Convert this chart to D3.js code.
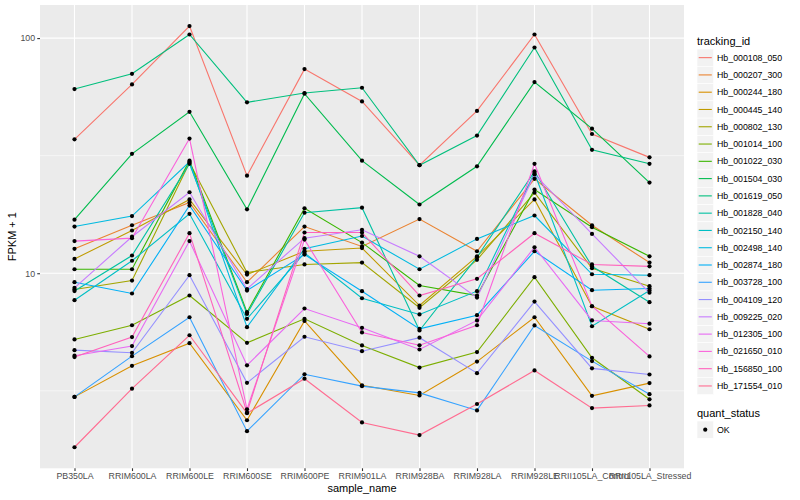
<!DOCTYPE html>
<html>
<head>
<meta charset="utf-8">
<script src="https://cdn.jsdelivr.net/npm/d3@7"></script>
<style>
  body { margin: 0; background: #ffffff; }
  text { font-family: "Liberation Sans", Arial, Helvetica, sans-serif; }
</style>
</head>
<body>
<svg id="chart" width="800" height="500"></svg>
<script>
const samples = ["PB350LA", "RRIM600LA", "RRIM600LE", "RRIM600SE", "RRIM600PE", "RRIM901LA",
  "RRIM928BA", "RRIM928LA", "RRIM928LE", "RRII105LA_Control", "RRII105LA_Stressed"];

const trackingIds = ["Hb_000108_050", "Hb_000207_300", "Hb_000244_180", "Hb_000445_140", "Hb_000802_130",
  "Hb_001014_100", "Hb_001022_030", "Hb_001504_030", "Hb_001619_050", "Hb_001828_040",
  "Hb_002150_140", "Hb_002498_140", "Hb_002874_180", "Hb_003728_100", "Hb_004109_120",
  "Hb_009225_020", "Hb_012305_100", "Hb_021650_010", "Hb_156850_100", "Hb_171554_010"];

const seriesColors = ["#F8766D", "#EA8331", "#D89000", "#C09B00", "#A3A500", "#7CAE00", "#39B600",
  "#00BB4E", "#00BF7D", "#00C1A3", "#00BFC4", "#00BAE0", "#00B0F6", "#35A2FF", "#9590FF",
  "#C77CFF", "#E76BF3", "#FA62DB", "#FF62BC", "#FF6C91"];

// FPKM + 1, one row per tracking_id, one value per sample
const fpkmPlusOne = [
  [37.1, 63.5, 112.5, 26.0, 73.8, 53.8, 28.8, 49.0, 103.6, 39.1, 31.1],
  [12.7, 16.0, 20.0, 9.16, 15.8, 13.0, 17.0, 12.4, 25.2, 16.0, 11.1],
  [2.98, 4.04, 5.04, 2.37, 6.27, 3.34, 3.02, 4.21, 6.50, 3.01, 3.41],
  [11.5, 15.2, 20.6, 9.87, 12.4, 12.8, 7.29, 11.8, 20.6, 7.24, 5.78],
  [8.53, 9.31, 29.5, 10.07, 10.9, 11.1, 7.13, 11.4, 22.0, 10.5, 8.81],
  [5.23, 6.01, 8.04, 5.06, 6.40, 4.93, 3.97, 4.62, 9.62, 4.37, 2.91],
  [10.4, 10.4, 30.1, 6.83, 18.9, 13.5, 8.87, 8.04, 22.7, 15.7, 11.8],
  [16.9, 32.2, 48.6, 18.7, 58.0, 30.1, 19.6, 28.5, 65.0, 41.2, 24.3],
  [60.7, 70.5, 103.6, 53.3, 58.4, 61.5, 28.8, 38.5, 91.2, 33.5, 29.2],
  [8.40, 11.9, 29.2, 6.71, 18.1, 19.0, 5.71, 11.7, 27.1, 10.7, 7.53],
  [7.68, 11.3, 17.9, 6.40, 12.2, 7.83, 6.68, 8.39, 26.7, 5.95, 8.44],
  [15.8, 17.5, 29.8, 5.90, 12.7, 14.4, 10.4, 14.0, 17.6, 9.90, 9.81],
  [9.16, 8.20, 19.4, 8.44, 12.0, 8.39, 5.80, 6.63, 12.4, 8.47, 8.61],
  [2.98, 4.44, 6.50, 2.13, 3.72, 3.31, 3.10, 2.61, 6.00, 4.23, 3.06],
  [4.71, 4.59, 9.81, 3.42, 5.37, 4.66, 5.32, 3.76, 7.58, 3.94, 3.71],
  [8.67, 14.3, 22.1, 8.57, 14.1, 15.3, 11.8, 7.88, 26.3, 14.7, 8.26],
  [4.46, 4.90, 13.7, 4.06, 7.08, 5.86, 4.74, 6.30, 12.9, 6.30, 6.10],
  [13.7, 14.1, 37.4, 2.64, 13.9, 5.60, 4.94, 6.01, 29.2, 7.24, 4.43],
  [4.40, 5.35, 14.8, 2.56, 14.9, 14.9, 8.04, 9.47, 14.8, 10.9, 10.7],
  [1.82, 3.23, 5.45, 2.54, 3.56, 2.32, 2.05, 2.78, 3.86, 2.67, 2.74]
];

const yMajorTicks = [10, 100];
const yMinorTicks = [3.1623, 31.623];
const quantLevels = ["OK"];

const svg = d3.select("#chart");
const panel = { left: 40, right: 684, top: 5, bottom: 468.3 };

// y: log scale, ggplot-style 5% expansion in log space
const allVals = fpkmPlusOne.flat();
const lo = Math.log10(d3.min(allVals)), hi = Math.log10(d3.max(allVals));
const pad = (hi - lo) * 0.05;
const y = d3.scaleLog().domain([Math.pow(10, lo - pad), Math.pow(10, hi + pad)])
  .range([panel.bottom, panel.top]);
const x = d3.scalePoint().domain(samples).range([panel.left, panel.right]).padding(0.6);

svg.append("rect").attr("x", 0).attr("y", 0).attr("width", 800).attr("height", 500).attr("fill", "#ffffff");
svg.append("rect").attr("x", panel.left).attr("y", panel.top)
  .attr("width", panel.right - panel.left).attr("height", panel.bottom - panel.top)
  .attr("fill", "#EBEBEB");

const grid = svg.append("g");
grid.selectAll("line.minor").data(yMinorTicks).join("line")
  .attr("x1", panel.left).attr("x2", panel.right)
  .attr("y1", d => y(d)).attr("y2", d => y(d))
  .attr("stroke", "#ffffff").attr("stroke-width", 0.55);
grid.selectAll("line.major").data(yMajorTicks).join("line")
  .attr("x1", panel.left).attr("x2", panel.right)
  .attr("y1", d => y(d)).attr("y2", d => y(d))
  .attr("stroke", "#ffffff").attr("stroke-width", 1.1);
grid.selectAll("line.vx").data(samples).join("line")
  .attr("x1", d => x(d)).attr("x2", d => x(d))
  .attr("y1", panel.top).attr("y2", panel.bottom)
  .attr("stroke", "#ffffff").attr("stroke-width", 1.1);

// lines
const line = d3.line().x((d, i) => x(samples[i])).y(d => y(d));
svg.append("g").selectAll("path").data(fpkmPlusOne).join("path")
  .attr("d", d => line(d))
  .attr("fill", "none")
  .attr("stroke", (d, i) => seriesColors[i])
  .attr("stroke-width", 1.1);

// points
const pts = [];
fpkmPlusOne.forEach((row, s) => row.forEach((v, i) => pts.push({ s: samples[i], v })));
svg.append("g").selectAll("circle").data(pts).join("circle")
  .attr("cx", d => x(d.s)).attr("cy", d => y(d.v)).attr("r", 2.1)
  .attr("fill", "#000000");

// axes
const yAxis = d3.axisLeft(y).tickValues(yMajorTicks).tickFormat(d3.format("d")).tickSize(2.75).tickPadding(2.2);
const gy = svg.append("g").attr("transform", `translate(${panel.left},0)`).call(yAxis);
const xAxis = d3.axisBottom(x).tickSize(2.75).tickPadding(2.2);
const gx = svg.append("g").attr("transform", `translate(0,${panel.bottom})`).call(xAxis);
[gy, gx].forEach(g => {
  g.select(".domain").remove();
  g.selectAll(".tick line").attr("stroke", "#333333").attr("stroke-width", 1.1);
  g.selectAll(".tick text").attr("fill", "#4D4D4D").style("font-size", "8.8px")
    .style("font-family", '"Liberation Sans", Arial, sans-serif');
});

svg.append("text").attr("x", (panel.left + panel.right) / 2).attr("y", 492)
  .attr("text-anchor", "middle").style("font-size", "11px").attr("fill", "#000")
  .text("sample_name");
svg.append("text").attr("transform", `translate(16,${(panel.top + panel.bottom) / 2}) rotate(-90)`)
  .attr("text-anchor", "middle").style("font-size", "11px").attr("fill", "#000")
  .text("FPKM + 1");

// legend: tracking_id
const lg = svg.append("g");
lg.append("text").attr("x", 697).attr("y", 44.5).style("font-size", "11px").attr("fill", "#000").text("tracking_id");
const keyH = 17.28, key0 = 49;
const items = lg.selectAll("g.item").data(trackingIds).join("g")
  .attr("transform", (d, i) => `translate(697,${key0 + i * keyH})`);
items.append("rect").attr("width", 16.5).attr("height", keyH).attr("fill", "#F2F2F2")
  .attr("stroke", "#ffffff").attr("stroke-width", 0.6);
items.append("line").attr("x1", 1.7).attr("x2", 14.8).attr("y1", keyH / 2).attr("y2", keyH / 2)
  .attr("stroke", (d, i) => seriesColors[i]).attr("stroke-width", 1.1);
items.append("text").attr("x", 20).attr("y", keyH / 2 + 3.1).style("font-size", "8.8px").attr("fill", "#000").text(d => d);

// legend: quant_status
const qg = svg.append("g");
qg.append("text").attr("x", 697).attr("y", 416.5).style("font-size", "11px").attr("fill", "#000").text("quant_status");
const qItems = qg.selectAll("g.q").data(quantLevels).join("g")
  .attr("transform", (d, i) => `translate(697,${421 + i * keyH})`);
qItems.append("rect").attr("width", 16.5).attr("height", keyH).attr("fill", "#F2F2F2")
  .attr("stroke", "#ffffff").attr("stroke-width", 0.6);
qItems.append("circle").attr("cx", 8.25).attr("cy", keyH / 2).attr("r", 2.1).attr("fill", "#000");
qItems.append("text").attr("x", 20).attr("y", keyH / 2 + 3.1).style("font-size", "8.8px").attr("fill", "#000").text(d => d);
</script>
</body>
</html>
